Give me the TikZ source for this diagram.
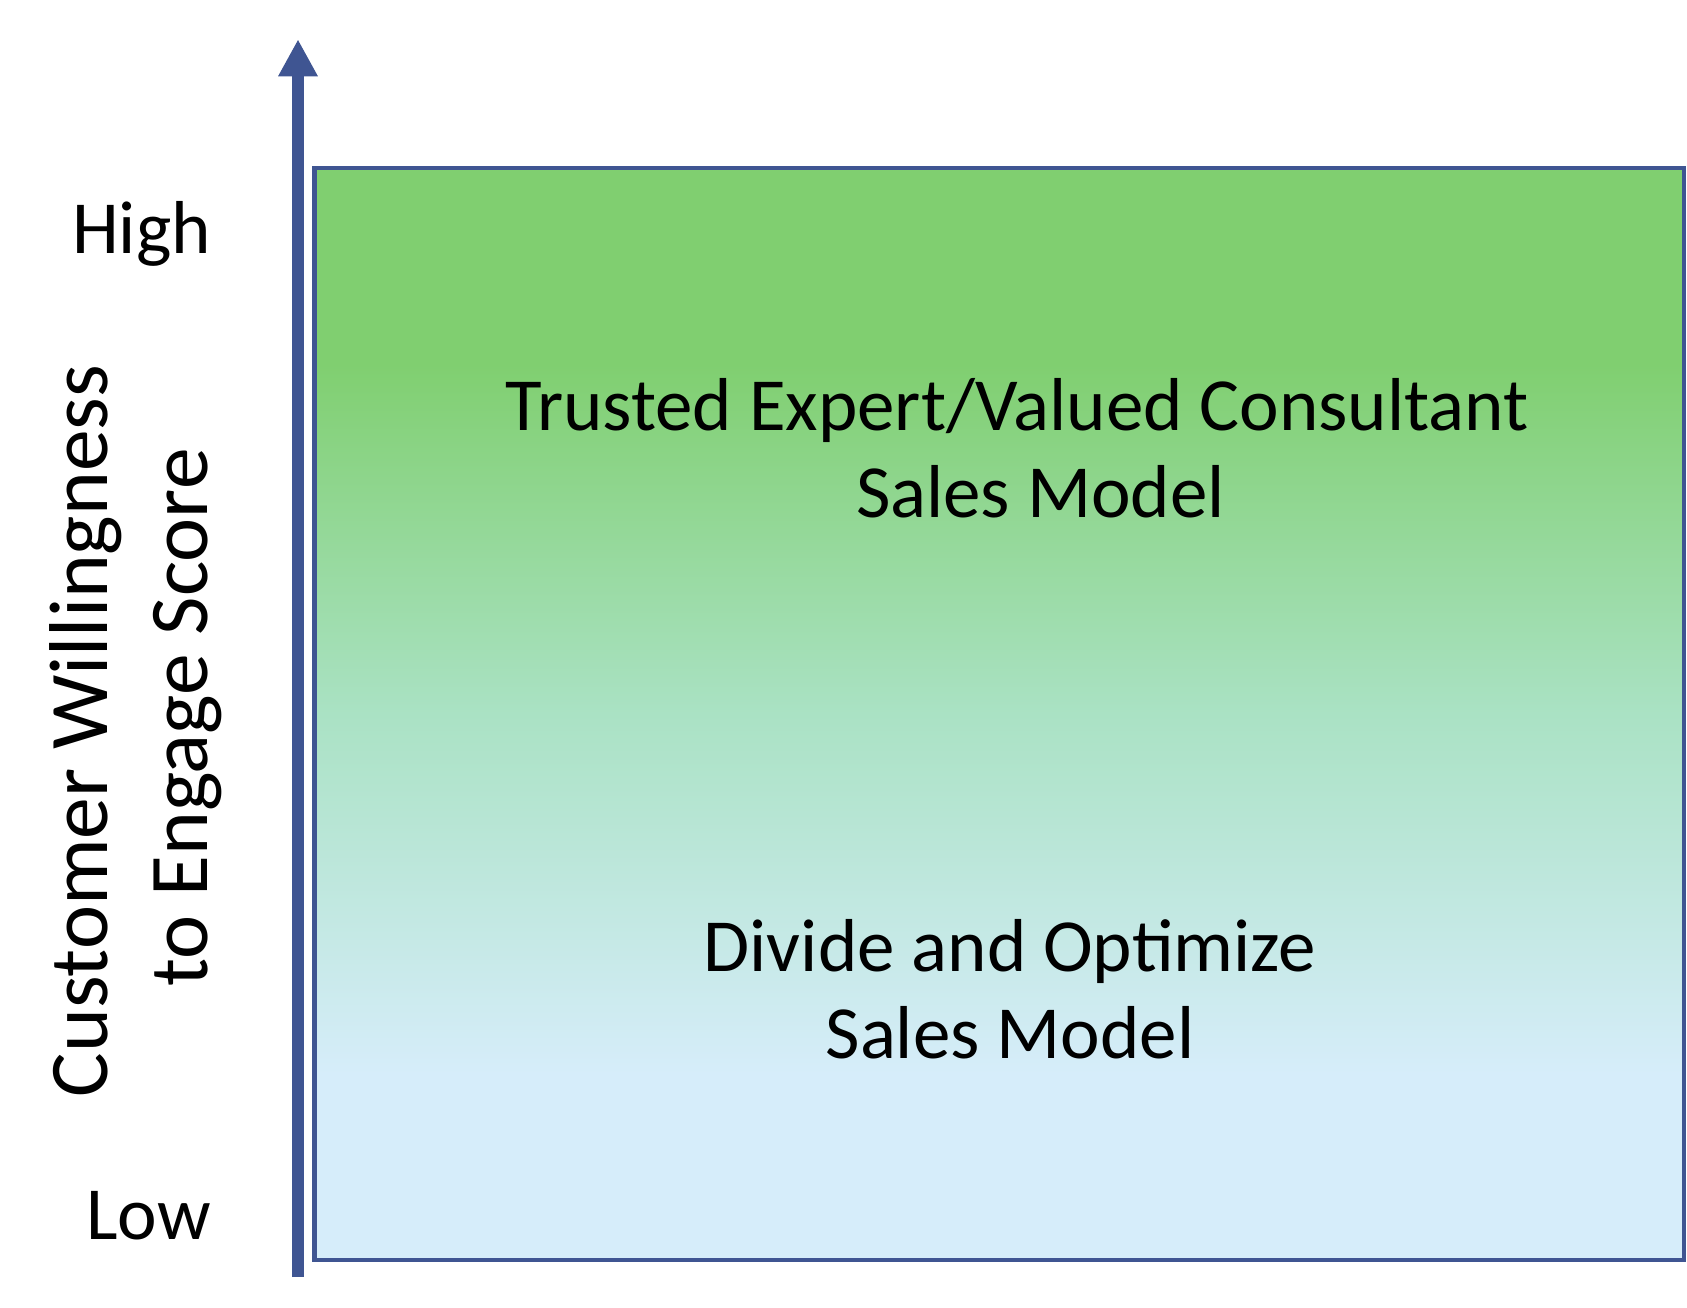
\documentclass[tikz,border=0pt]{standalone}
\usepackage{fontspec}
\setmainfont{Carlito}
\usetikzlibrary{arrows.meta}
\definecolor{axisblue}{RGB}{63,85,146}
\definecolor{topgreen}{RGB}{128,207,112}
\definecolor{midgreen}{RGB}{170,226,196}
\definecolor{lowblue}{RGB}{214,237,250}
\pgfdeclareverticalshading{panelshade}{100bp}{color(0bp)=(lowblue); color(33.5bp)=(lowblue); color(50bp)=(midgreen); color(66bp)=(topgreen); color(100bp)=(topgreen)}
\tikzset{
  axisarrow/.style={draw=axisblue, line width=12.6pt, -{Triangle[length=37pt,width=37pt]}},
  panel/.style={draw=axisblue, line width=4.4pt, shading=panelshade},
  maintext/.style={inner sep=0pt, align=center, font=\fontsize{75pt}{87pt}\selectfont},
  ticktext/.style={inner sep=0pt, font=\fontsize{75pt}{87pt}\selectfont},
  axistext/.style={inner sep=0pt, align=center, rotate=90, font=\fontsize{83.5pt}{100pt}\selectfont}
}
\begin{document}
\begin{tikzpicture}[x=1pt,y=-1pt]
\useasboundingbox (0,0) rectangle (1687,1308);
\coordinate (abot) at (298,1277);
\coordinate (atop) at (298,39.3);
\draw[axisarrow] (abot) -- (atop);
\path[panel] (314.5,168) rectangle (1684,1260);
\node[maintext, anchor=base] (trusted) at (1017,517.5) {Trusted Expert/Valued Consultant\\\hspace*{47pt}Sales Model};
\node[maintext, anchor=base] (divide) at (1010,1058.7) {Divide and Optimize\\Sales Model};
\node[ticktext, anchor=base east] (high) at (211,254) {High};
\node[ticktext, anchor=base east] (low) at (211,1239.5) {Low};
\node[axistext, anchor=base] (ylabel) at (207.6,731) {Customer Willingness\\\hspace*{27pt}to Engage Score};
\end{tikzpicture}
\end{document}
